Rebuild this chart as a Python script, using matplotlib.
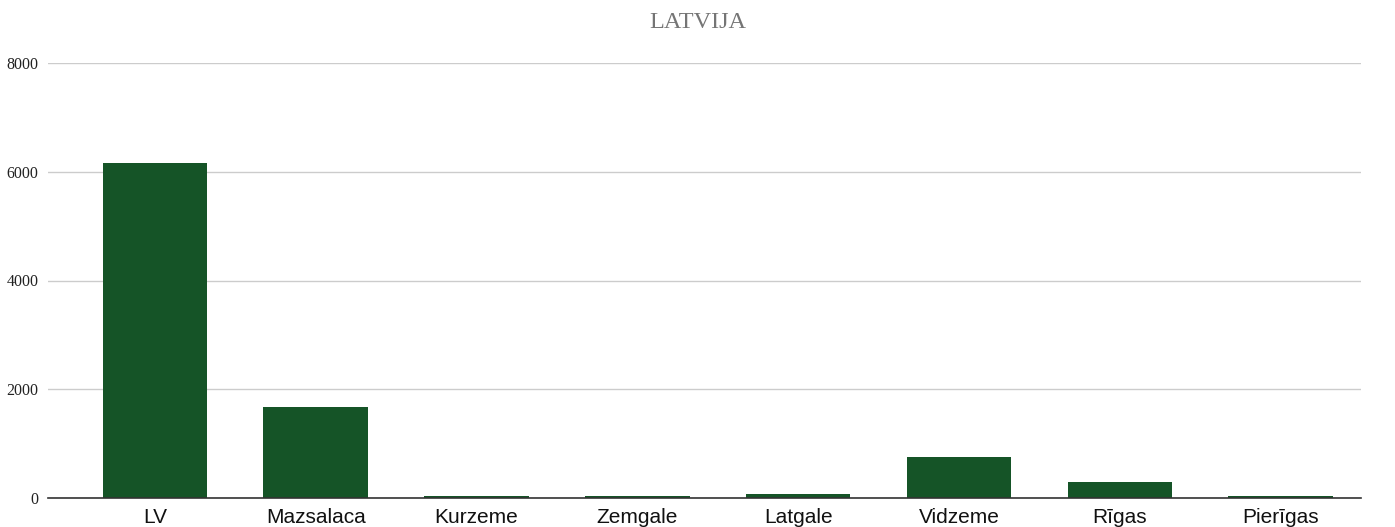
import matplotlib
matplotlib.use("Agg")
import matplotlib.pyplot as plt

regions = ["LV", "Mazsalaca", "Kurzeme", "Zemgale", "Latgale", "Vidzeme", "Rīgas", "Pierīgas"]
values = [6160, 1680, 48, 45, 80, 750, 300, 42]
yticks = [0, 2000, 4000, 6000, 8000]

bar_color = "#155427"

fig = plt.figure(figsize=(13.95, 5.27), dpi=100)
ax = fig.add_axes([48 / 1395, 1 - 498.3 / 527, (1361 - 48) / 1395, (498.3 - 62.7) / 527])

x = range(len(regions))
ax.bar(x, values, width=0.65, color=bar_color, zorder=3)

ax.set_ylim(0, 8000)
ax.set_xlim(-0.665, 7.5)
ax.set_yticks(yticks)
ax.set_yticklabels([str(t) for t in yticks], fontfamily="Liberation Serif", fontsize=11.5, color="#222222")
ax.set_xticks(list(x))
ax.set_xticklabels(regions, fontfamily="Liberation Sans", fontsize=15, color="#111111")
ax.tick_params(axis="both", length=0)
ax.tick_params(axis="y", pad=7)
ax.tick_params(axis="x", pad=7)

ax.yaxis.grid(True, color="#cccccc", linewidth=1, zorder=0)
for side in ["top", "right", "left"]:
    ax.spines[side].set_visible(False)
ax.spines["bottom"].set_color("#333333")
ax.spines["bottom"].set_linewidth(1.2)
ax.spines["bottom"].set_zorder(4)

fig.text(0.5, 1 - 22 / 527, "LATVIJA", ha="center", va="center",
         fontfamily="Liberation Serif", fontsize=17.5, color="#757575")

fig.savefig("out.png", dpi=100)
